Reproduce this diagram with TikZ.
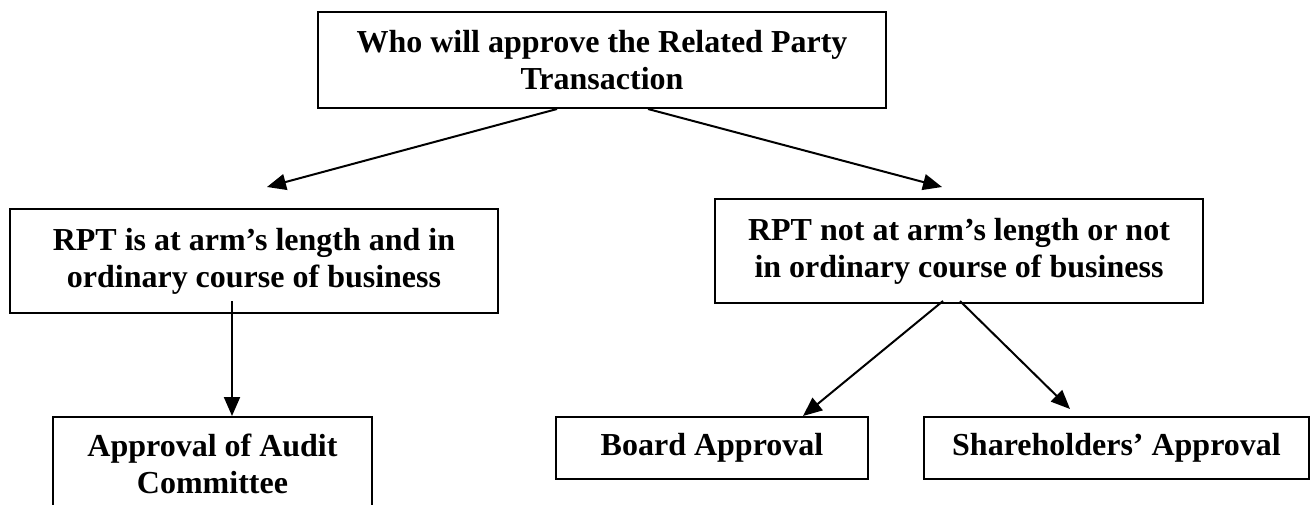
\documentclass[tikz,border=0pt]{standalone}
\usepackage{fontspec}
\setmainfont{Liberation Serif}
\usetikzlibrary{arrows.meta}
\tikzset{
  box/.style={draw=black, line width=2pt, inner sep=0pt, align=center,
    font=\fontsize{32}{37}\selectfont\bfseries},
  conn/.style={line width=2pt, -{Triangle[length=19pt,width=16pt]}}
}
\begin{document}
\begin{tikzpicture}[x=1pt,y=-1pt]
\useasboundingbox (0,0) rectangle (1314,504);
\begin{scope}
\clip (0,0) rectangle (1314,504);
\node[box, minimum width=568pt, minimum height=96pt] (top) at (602,60)
  {Who will approve the Related Party\\Transaction};
\node[box, minimum width=488pt, minimum height=104pt] (lm) at (254,261)
  {RPT is at arm’s length and in\\ordinary course of business};
\node[box, minimum width=488pt, minimum height=104pt] (rm) at (959,251)
  {RPT not at arm’s length or not\\in ordinary course of business};
\node[box, minimum width=319pt, minimum height=94pt] (audit) at (212.5,464)
  {Approval of Audit\\Committee};
\node[box, minimum width=312pt, minimum height=62pt] (board) at (712,448)
  {Board Approval};
\node[box, minimum width=385pt, minimum height=62pt] (share) at (1116.5,448)
  {Shareholders’ Approval};
\draw[conn] ([xshift=-45pt]top.south) -- ([xshift=13pt,yshift=21pt]lm.north);
\draw[conn] ([xshift=46pt]top.south) -- ([xshift=-17pt,yshift=11pt]rm.north);
\draw[conn] ([xshift=-22pt,yshift=13pt]lm.south) -- ([xshift=19.5pt]audit.north);
\draw[conn] ([xshift=-16pt,yshift=3pt]rm.south) -- ([xshift=91pt]board.north);
\draw[conn] ([xshift=1pt,yshift=3pt]rm.south) -- ([xshift=-46.5pt,yshift=7pt]share.north);
\end{scope}
\end{tikzpicture}
\end{document}
